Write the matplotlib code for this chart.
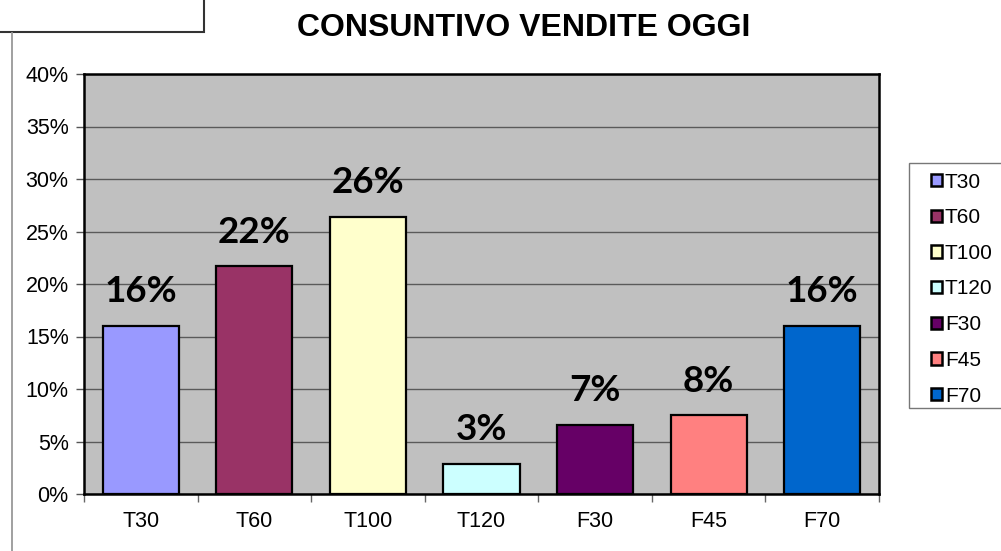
import matplotlib
matplotlib.use("Agg")
import matplotlib.pyplot as plt
from matplotlib.patches import Rectangle, Patch
from matplotlib.lines import Line2D
from matplotlib.ticker import MultipleLocator, FuncFormatter, FixedLocator

categories = ["T30", "T60", "T100", "T120", "F30", "F45", "F70"]
values = [16.0, 21.7, 26.4, 2.85, 6.6, 7.5, 16.0]
labels = ["16%", "22%", "26%", "3%", "7%", "8%", "16%"]
colors = ["#9999FF", "#993366", "#FFFFCC", "#CCFFFF", "#660066", "#FF8080", "#0066CC"]
title = "CONSUNTIVO VENDITE OGGI"

W, H = 1001, 551
fig = plt.figure(figsize=(W / 100, H / 100), dpi=100)
fig.patch.set_facecolor("white")

def fx(px):
    return px / W

def fy(py):
    return 1 - py / H

ax = fig.add_axes([fx(84), fy(494), fx(879) - fx(84), fy(74) - fy(494)])
ax.set_facecolor("#C0C0C0")

x = list(range(len(categories)))
bars = ax.bar(x, values, width=0.67, color=colors, edgecolor="black",
              linewidth=1.6, zorder=3)
ax.set_xlim(-0.5, len(categories) - 0.5)
ax.set_ylim(0, 40)

ax.yaxis.set_major_locator(MultipleLocator(5))
ax.yaxis.set_major_formatter(FuncFormatter(lambda v, p: f"{int(round(v))}%"))
ax.grid(axis="y", color="#5a5a5a", linewidth=1.0, zorder=1)
ax.set_axisbelow(True)

ax.set_xticks(x)
ax.set_xticklabels(categories, fontsize=15.5, family="Liberation Sans")
ax.tick_params(axis="x", length=0, pad=12)
ax.xaxis.set_minor_locator(FixedLocator([i - 0.5 for i in range(len(categories) + 1)]))
ax.tick_params(axis="x", which="minor", length=6, color="#666666", width=1)
ax.tick_params(axis="y", length=6, color="#555555", width=1, pad=5,
               labelsize=15.5)
for t in ax.get_yticklabels():
    t.set_family("Liberation Sans")

for s in ax.spines.values():
    s.set_linewidth(1.8)
    s.set_color("black")

for xi, v, lab in zip(x, values, labels):
    ax.annotate(lab, (xi, v), xytext=(0, 17), textcoords="offset points",
                ha="center", va="baseline", fontsize=26.5, fontweight="bold",
                family="Lato", zorder=4)

fig.text(fx(524), fy(36), title, ha="center", va="baseline", fontsize=23,
         fontweight="bold", family="Liberation Sans")

# Legend frame (extends beyond the right edge, as in the reference)
fig.add_artist(Rectangle((fx(909), fy(408)), fx(1020) - fx(909), fy(163) - fy(408),
                         transform=fig.transFigure, facecolor="white",
                         edgecolor="#777777", linewidth=1.0))
handles = [Patch(facecolor=c, edgecolor="black", linewidth=1.8) for c in colors]
leg = fig.legend(handles, categories, loc="upper left",
                 bbox_to_anchor=(fx(931), fy(172.5)),
                 frameon=False, ncol=1,
                 prop={"family": "Liberation Sans", "size": 15},
                 handlelength=0.55, handleheight=0.55, handletextpad=0.12,
                 labelspacing=0.8, borderpad=0, borderaxespad=0)

# top-left box and vertical line
fig.add_artist(Rectangle((fx(-2), fy(32)), fx(206), fy(-2) - fy(32),
                         transform=fig.transFigure, facecolor="white",
                         edgecolor="#333333", linewidth=1.5))
fig.add_artist(Line2D([fx(12), fx(12)], [fy(33), fy(552)],
                      transform=fig.transFigure, color="#999999", linewidth=1.3))

fig.savefig("out.png", dpi=100)
